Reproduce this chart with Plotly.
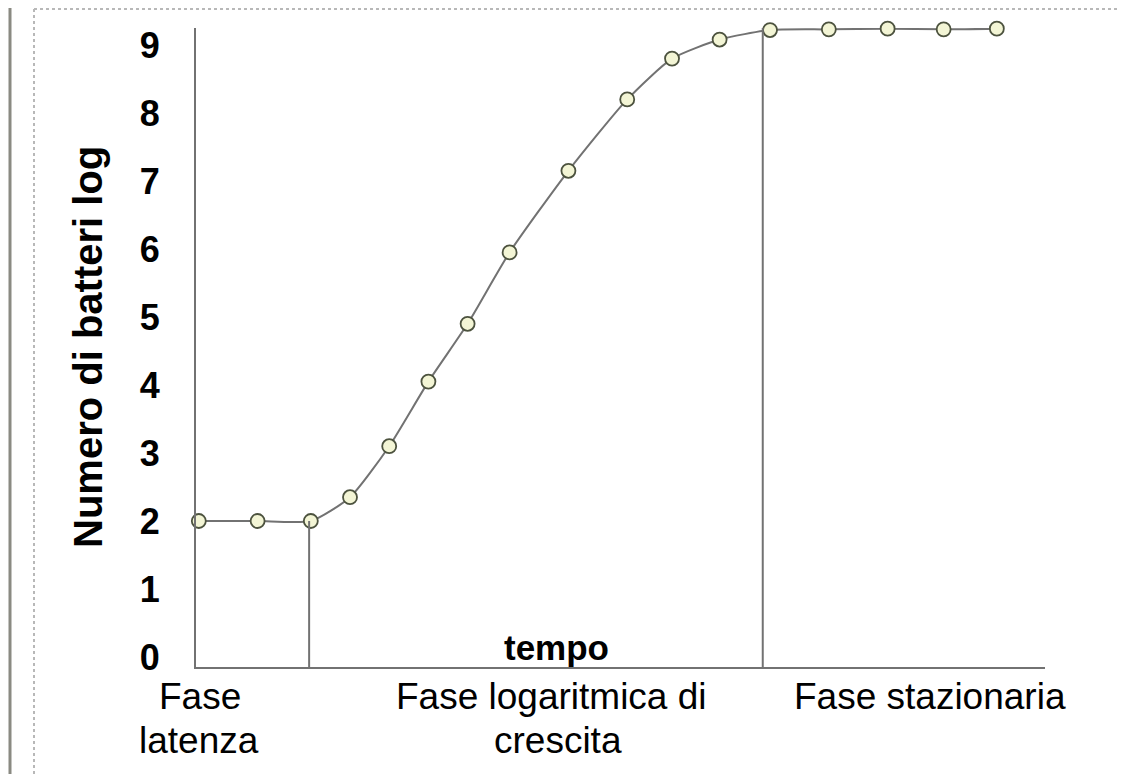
import plotly.graph_objects as go

# ---- data ----
tempo = [0.05, 1.1, 2.05, 2.75, 3.45, 4.15, 4.85, 5.6, 6.65, 7.7, 8.5, 9.35, 10.25, 11.3, 12.35, 13.35, 14.3]
log_batteri = [2.0, 2.0, 2.0, 2.35, 3.1, 4.05, 4.9, 5.95, 7.15, 8.2, 8.8, 9.08, 9.22, 9.23, 9.24, 9.23, 9.24]
y_ticks = [0, 1, 2, 3, 4, 5, 6, 7, 8, 9]
lag_end = 2.02
stationary_start = 10.12
y_title = "Numero di batteri log"
x_title = "tempo"
phase_labels = [
    ["Fase", "latenza"],
    ["Fase logaritmica di", "crescita"],
    ["Fase stazionaria"],
]

OFF = 8  # page body margin
W, H = 1126, 774
PL, PR, PT, PB = 196, 1045, 28, 667  # plot area in screen pixels
L, R, T, B = PL - OFF, W - (PR - OFF), PT - OFF, H - (PB - OFF)
Y0, Y1 = -0.147, 9.25
X0, X1 = 0, 15.16

FONT = "Liberation Sans, Arial, Helvetica, sans-serif"
GRAY = "#727272"

def px_x(p):
    return (p - PL) / (PR - PL)

def px_y(p):
    return (PB - p) / (PB - PT)

fig = go.Figure()
fig.add_trace(go.Scatter(
    x=tempo, y=log_batteri, mode="lines+markers",
    line=dict(color=GRAY, width=2, shape="spline", smoothing=0.6),
    marker=dict(symbol="circle", size=14, color="#f3f5d5",
                line=dict(color="#4c523e", width=1.8)),
    cliponaxis=False, showlegend=False, hoverinfo="skip",
))

# phase boundary lines
fig.add_shape(type="line", xref="x", yref="y", x0=lag_end, x1=lag_end,
              y0=Y0, y1=log_batteri[2], line=dict(color=GRAY, width=2))
fig.add_shape(type="line", xref="x", yref="y", x0=stationary_start, x1=stationary_start,
              y0=Y0, y1=Y1, line=dict(color=GRAY, width=2))

# frame decoration
fig.add_shape(type="line", xref="paper", yref="paper", x0=px_x(10), x1=px_x(10),
              y0=px_y(OFF), y1=px_y(H), line=dict(color="#8a8a82", width=3))
fig.add_shape(type="line", xref="paper", yref="paper", x0=px_x(34), x1=px_x(34),
              y0=px_y(9), y1=px_y(H), line=dict(color="#b8b8b8", width=2, dash="dot"))
fig.add_shape(type="line", xref="paper", yref="paper", x0=px_x(34), x1=px_x(W),
              y0=px_y(9), y1=px_y(9), line=dict(color="#b8b8b8", width=2, dash="dot"))

# titles
fig.add_annotation(text=y_title, xref="paper", yref="paper", x=px_x(88), y=px_y(347),
                   textangle=-90, showarrow=False, xanchor="center", yanchor="middle",
                   font=dict(family=FONT, size=40, color="black", weight="bold"))
fig.add_annotation(text=x_title, xref="paper", yref="paper", x=px_x(556), y=px_y(647),
                   showarrow=False, xanchor="center", yanchor="middle",
                   font=dict(family=FONT, size=35, color="black", weight="bold"))

centers = [[200, 199], [551, 558], [930]]
for i, lines in enumerate(phase_labels):
    for j, line in enumerate(lines):
        fig.add_annotation(text=line, xref="paper", yref="paper",
                           x=px_x(centers[i][j]), y=px_y(696 + 45 * j),
                           showarrow=False, xanchor="center", yanchor="middle",
                           font=dict(family=FONT, size=37, color="black"))

fig.update_layout(
    width=W, height=H,
    margin=dict(l=L, r=R, t=T, b=B),
    paper_bgcolor="white", plot_bgcolor="white",
    xaxis=dict(range=[X0, X1], showgrid=False, zeroline=False, showticklabels=False,
               showline=True, linecolor=GRAY, linewidth=2, ticks=""),
    yaxis=dict(range=[Y0, Y1], showgrid=False, zeroline=False,
               tickvals=y_ticks, ticktext=[str(v) for v in y_ticks],
               showline=True, linecolor=GRAY, linewidth=2,
               ticks="outside", ticklen=27, tickcolor="rgba(0,0,0,0)",
               tickfont=dict(family=FONT, size=36, color="black", weight="bold")),
)

fig.write_html("out.html")
